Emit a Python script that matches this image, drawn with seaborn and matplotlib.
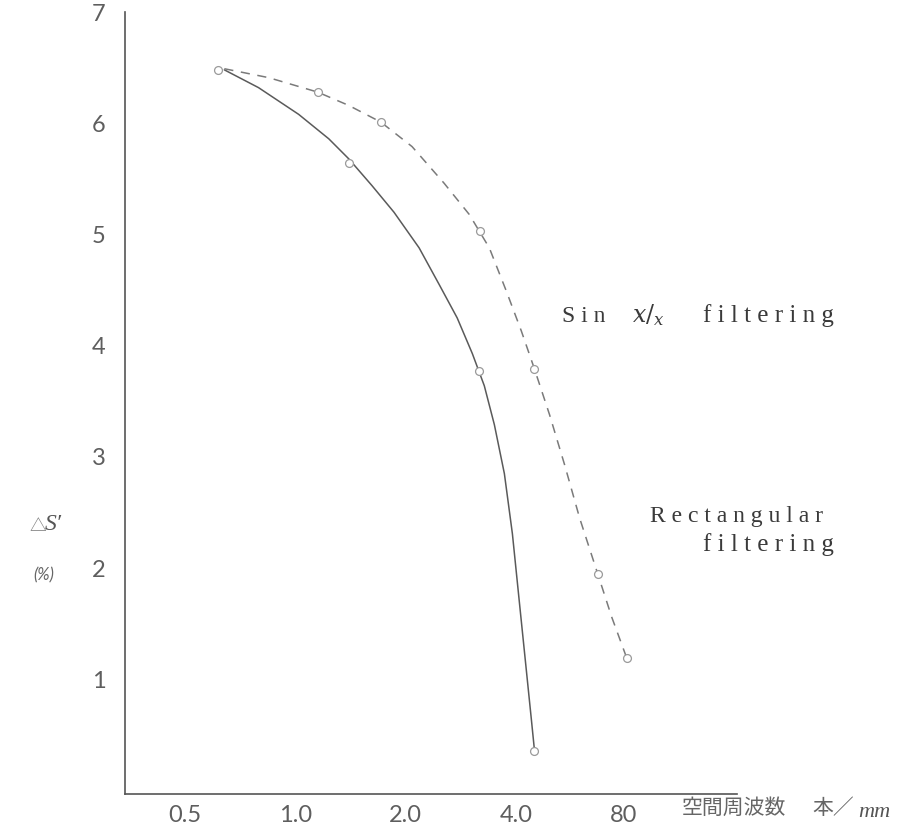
import numpy as np
import pandas as pd
import matplotlib
matplotlib.use("Agg")
import matplotlib.pyplot as plt
import seaborn as sns
from matplotlib.transforms import ScaledTranslation

# ---- data (x: spatial frequency, lines/mm; y: ΔS' %) ----
# solid curve trace
solid_curve_x = [0.668, 0.828, 1.065, 1.287, 1.459, 1.687, 1.938, 2.269, 2.574, 2.882,
                 3.169, 3.417, 3.640, 3.876, 4.076, 4.260, 4.453, 4.595, 4.683]
solid_curve_y = [6.48, 6.32, 6.08, 5.86, 5.68, 5.44, 5.20, 4.88, 4.55, 4.25,
                 3.93, 3.64, 3.29, 2.85, 2.31, 1.69, 1.07, 0.63, 0.36]
solid_pts_x = [0.643, 1.459, 3.31, 4.683]
solid_pts_y = [6.48, 5.64, 3.77, 0.36]
# dashed curve trace
dashed_curve_x = [0.668, 0.882, 1.200, 1.459, 1.785, 2.171, 2.656, 3.109, 3.526, 3.925,
                  4.314, 4.683, 5.147, 5.657, 6.218, 6.964, 7.606, 8.362]
dashed_curve_y = [6.49, 6.41, 6.28, 6.16, 6.01, 5.79, 5.46, 5.18, 4.88, 4.49,
                  4.13, 3.79, 3.38, 2.93, 2.45, 1.95, 1.56, 1.19]
dashed_pts_x = [1.200, 1.785, 3.33, 4.683, 6.964, 8.362]
dashed_pts_y = [6.28, 6.01, 5.03, 3.79, 1.95, 1.19]

x_ticks = [0.5, 1.0, 2.0, 4.0, 8.0]
x_tick_labels = ["0.5", "1.0", "2.0", "4.0", "80"]
y_ticks = [1, 2, 3, 4, 5, 6, 7]
y_tick_labels = ["1", "2", "3", "4", "5", "6", "7"]

sns.set_theme(style="white")
plt.rcParams["font.family"] = ["Lato", "DejaVu Sans"]

W, H = 911, 825
fig = plt.figure(figsize=(W / 100, H / 100), dpi=100)
ax = fig.add_axes([125 / W, 1 - 794 / H, (737 - 125) / W, (794 - 12) / H])

sns.lineplot(x=solid_curve_x, y=solid_curve_y, sort=False, estimator=None, ax=ax,
             color="#5a5a5a", linewidth=1.1)
sns.lineplot(x=dashed_curve_x, y=dashed_curve_y, sort=False, estimator=None, ax=ax,
             color="#7a7a7a", linewidth=1.1, linestyle=(0, (6, 5)))
sns.scatterplot(x=solid_pts_x, y=solid_pts_y, ax=ax, marker="o", s=32,
                facecolor="white", edgecolor="#9a9a9a", linewidth=0.9, zorder=3)
sns.scatterplot(x=dashed_pts_x, y=dashed_pts_y, ax=ax, marker="o", s=32,
                facecolor="white", edgecolor="#9a9a9a", linewidth=0.9, zorder=3)

ax.set_xscale("log", base=2)
ax.set_xlim(0.358, 16.7)
ax.set_ylim(-0.03, 7.0)
ax.set_xticks(x_ticks)
ax.set_xticklabels(x_tick_labels)
ax.xaxis.set_minor_locator(matplotlib.ticker.NullLocator())
ax.set_yticks(y_ticks)
ax.set_yticklabels(y_tick_labels)

for s in ["top", "right"]:
    ax.spines[s].set_visible(False)
for s in ["left", "bottom"]:
    ax.spines[s].set_color("#555555")
    ax.spines[s].set_linewidth(1.2)
ax.tick_params(axis="x", direction="in", length=6, width=0.8, color="#888888",
               pad=8, labelsize=17, labelcolor="#5e5e5e")
ax.tick_params(axis="y", direction="in", length=7, width=0.8, color="#888888",
               pad=14, labelsize=17, labelcolor="#5e5e5e")
for lab in ax.get_xticklabels():
    lab.set_horizontalalignment("left")
ax.set_xlabel("")
ax.set_ylabel("")
offset = ScaledTranslation(-10 / 100, 0, fig.dpi_scale_trans)
for lab in ax.get_xticklabels():
    lab.set_transform(lab.get_transform() + offset)

cjk = ["Noto Sans CJK JP", "DejaVu Sans"]
serif = ["Liberation Serif", "DejaVu Serif"]
# y-axis label
fig.text(30 / W, 1 - 527 / H, "△", family=cjk, fontsize=12, color="#777777",
         ha="left", va="center")
fig.text(45 / W, 1 - 525 / H, "S′", family=serif, style="italic", fontsize=17,
         color="#555555", ha="left", va="center")
fig.text(33 / W, 1 - 575 / H, "(%)", family=["Lato", "DejaVu Sans"], style="italic",
         fontsize=12, color="#666666", ha="left", va="center")

# x-axis label
fig.text(682 / W, 1 - 808 / H, "空間周波数", family=cjk, fontsize=15, color="#666666",
         ha="left", va="center")
fig.text(812 / W, 1 - 808 / H, "本／", family=cjk, fontsize=15, color="#666666",
         ha="left", va="center")
fig.text(858 / W, 1 - 817 / H, "mm", family=serif, style="italic", fontsize=16,
         color="#555555", ha="left", va="baseline")

# annotations
tcol = "#3a3a3a"
fig.text(562 / W, 1 - 322 / H, "S i n", family=serif, fontsize=17, color=tcol,
         ha="left", va="baseline")
fig.text(632 / W, 1 - 322 / H, r"$x/_{x}$", fontsize=17, color=tcol,
         ha="left", va="baseline", math_fontfamily="dejavuserif")
fig.text(703 / W, 1 - 322 / H, "f i l t e r i n g", family=serif, fontsize=18, color=tcol,
         ha="left", va="baseline")
fig.text(650 / W, 1 - 522 / H, "R e c t a n g u l a r", family=serif, fontsize=17,
         color=tcol, ha="left", va="baseline")
fig.text(703 / W, 1 - 551 / H, "f i l t e r i n g", family=serif, fontsize=18, color=tcol,
         ha="left", va="baseline")

fig.savefig("out.png", dpi=100, facecolor="white")
